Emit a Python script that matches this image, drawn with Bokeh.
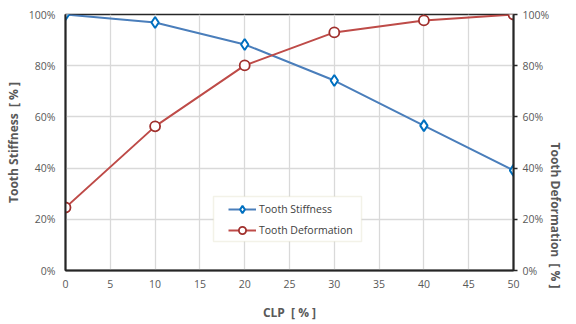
from bokeh.plotting import figure
from bokeh.models import (Range1d, LinearAxis, FixedTicker, PrintfTickFormatter, Legend,
                          LegendItem, BoxAnnotation)
from bokeh.embed import file_html
from bokeh.resources import INLINE

clp = [0, 10, 20, 30, 40, 50]
stiffness = [100, 96.9, 88.3, 74.2, 56.6, 39.1]
deformation = [24.6, 56.3, 80.1, 93.0, 97.7, 100]
x_ticks = [0, 5, 10, 15, 20, 25, 30, 35, 40, 45, 50]
y_ticks = [0, 20, 40, 60, 80, 100]

FONT = "Open Sans"
GRAY = "#595959"
BLUE_LINE = "#4a7ebb"
BLUE_MARK = "#0070c0"
RED_LINE = "#be4b48"
RED_MARK = "#a0302d"
NB = "\u00a0"
TITLE_SIZE = "12px"

p = figure(width=576, height=324, output_backend="svg", toolbar_location=None,
           x_range=Range1d(0, 50), y_range=Range1d(0, 100),
           min_border_left=65, min_border_right=63, min_border_top=14, min_border_bottom=54)
p.background_fill_color = "white"
p.border_fill_color = "white"
p.outline_line_color = "#262626"
p.outline_line_width = 1.5

p.xgrid.ticker = FixedTicker(ticks=x_ticks)
p.ygrid.ticker = FixedTicker(ticks=y_ticks)
p.xgrid.grid_line_color = "#d9d9d9"
p.ygrid.grid_line_color = "#d9d9d9"
p.xgrid.grid_line_width = 1.3
p.ygrid.grid_line_width = 1.3

def style_axis(ax, label):
    ax.axis_label = label
    ax.axis_label_text_font = FONT
    ax.axis_label_text_font_style = "bold"
    ax.axis_label_text_font_size = TITLE_SIZE
    ax.axis_label_text_color = GRAY
    ax.major_label_text_font = FONT
    ax.major_label_text_font_size = "10.5px"
    ax.major_label_text_color = GRAY
    ax.minor_tick_line_color = None
    ax.axis_line_color = "#262626"
    ax.axis_line_width = 2

xa = p.xaxis[0]
xa.ticker = FixedTicker(ticks=x_ticks)
style_axis(xa, "CLP" + NB + NB + "[ % ]")
xa.major_tick_line_color = None
xa.major_tick_out = 0
xa.major_label_standoff = 9
xa.axis_label_standoff = 13

ya = p.yaxis[0]
ya.ticker = FixedTicker(ticks=y_ticks)
ya.formatter = PrintfTickFormatter(format="%d%%")
style_axis(ya, "Tooth Stiffness" + NB + NB + "[ % ]")
ya.major_tick_line_color = None
ya.major_tick_out = 0
ya.major_label_standoff = 10
ya.axis_label_standoff = 4

ra = LinearAxis(ticker=FixedTicker(ticks=y_ticks), formatter=PrintfTickFormatter(format="%d%%"))
style_axis(ra, "Tooth Deformation" + NB + NB + "[ % ]")
ra.major_tick_out = 4
ra.major_tick_in = 0
ra.major_tick_line_color = "#262626"
ra.major_tick_line_width = 1.5
ra.major_label_standoff = 5
ra.axis_label_standoff = 3
ra.axis_label_orientation = -1.5708
p.add_layout(ra, "right")

l1 = p.line(clp, stiffness, line_color=BLUE_LINE, line_width=2)
m1 = p.scatter(clp, stiffness, marker="diamond", size=11, fill_color="white",
               line_color=BLUE_MARK, line_width=2)
l2 = p.line(clp, deformation, line_color=RED_LINE, line_width=2)
m2 = p.scatter(clp, deformation, marker="circle", size=10, fill_color="white",
               line_color=RED_MARK, line_width=1.8)

box = BoxAnnotation(left=16.52, right=33.04, bottom=11.33, top=28.9,
                    fill_color="white", fill_alpha=1,
                    line_color="#d8d3b4", line_width=1.5)
p.add_layout(box)

legend = Legend(items=[LegendItem(label="Tooth Stiffness", renderers=[l1, m1]),
                       LegendItem(label="Tooth Deformation", renderers=[l2, m2])],
                location=(163, 31))
legend.label_text_font = FONT
legend.label_text_font_size = "10.5px"
legend.label_text_color = "#404040"
legend.border_line_color = None
legend.background_fill_alpha = 0
legend.padding = 0
legend.spacing = 3
legend.margin = 0
legend.glyph_width = 28
legend.label_standoff = 3
legend.label_height = 18
legend.glyph_height = 18
p.add_layout(legend, "center")

open("out.html", "w").write(file_html(p, INLINE))
